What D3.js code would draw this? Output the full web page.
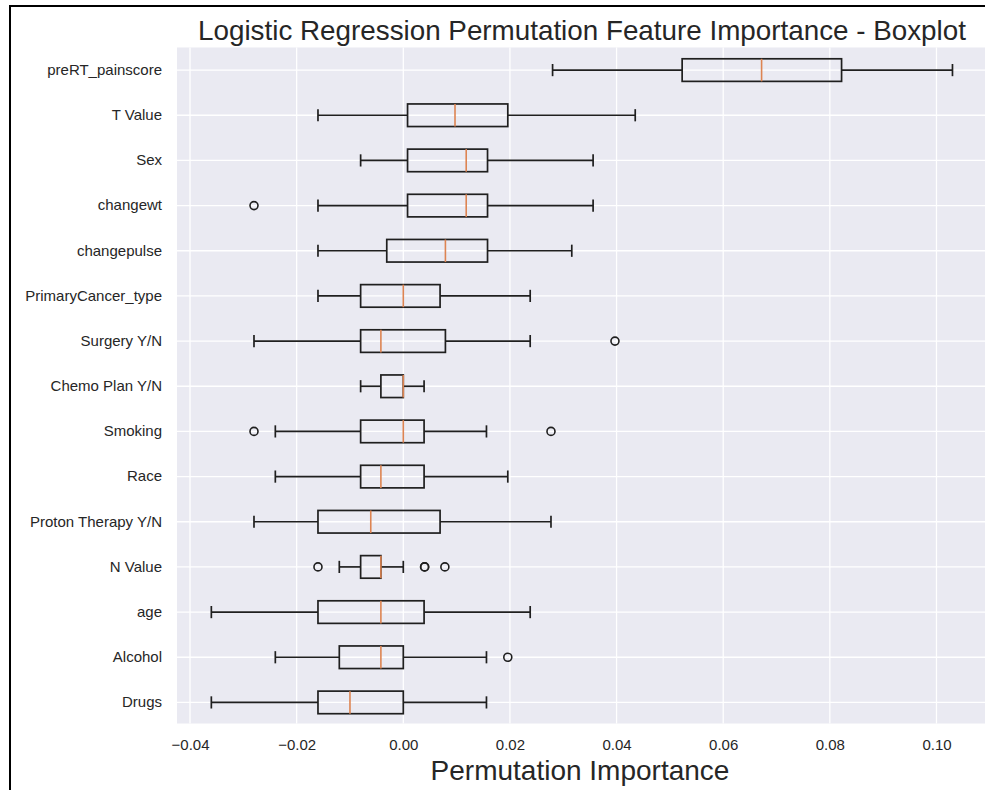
<!DOCTYPE html>
<html><head><meta charset="utf-8">
<script src="https://cdn.jsdelivr.net/npm/d3@7/dist/d3.min.js"></script>
<style>body{margin:0;background:#fff}svg{display:block}text{font-family:"Liberation Sans",Arial,sans-serif;fill:#262626}</style>
</head><body><svg id="c" width="985" height="790"></svg>
<script>
const features = ["preRT_painscore","T Value","Sex","changewt","changepulse","PrimaryCancer_type","Surgery Y/N","Chemo Plan Y/N","Smoking","Race","Proton Therapy Y/N","N Value","age","Alcohol","Drugs"];
const whiskerLow  = [0.028,-0.016,-0.008,-0.016,-0.016,-0.016,-0.028,-0.008,-0.024,-0.024,-0.028,-0.012,-0.036,-0.024,-0.036];
const q1          = [0.0523,0.0008,0.0008,0.0008,-0.0031,-0.008,-0.008,-0.0042,-0.008,-0.008,-0.016,-0.008,-0.016,-0.012,-0.016];
const median      = [0.0672,0.0097,0.0118,0.0118,0.0079,0.0,-0.0042,0.0,0.0,-0.0042,-0.0061,-0.0042,-0.0042,-0.0042,-0.01];
const q3          = [0.0822,0.0196,0.0158,0.0158,0.0158,0.0069,0.0079,0.0,0.0039,0.0039,0.0069,-0.0042,0.0039,0.0,0.0];
const whiskerHigh = [0.103,0.0435,0.0356,0.0356,0.0316,0.0238,0.0238,0.0039,0.0156,0.0196,0.0277,0.0,0.0238,0.0156,0.0156];
const outliers    = [[],[],[],[-0.028],[],[],[0.0397],[],[-0.028,0.0277],[],[],[-0.016,0.004,0.004,0.0078],[],[0.0196],[]];
const xTicks = [-0.04,-0.02,0.00,0.02,0.04,0.06,0.08,0.10];

const svg = d3.select("#c");
const W = 985, H = 790;
const L = 177, R = 985, T = 47.5, B = 723.5;
const x = d3.scaleLinear().domain([-0.04244, 0.1091]).range([L, R]);
const y = d3.scaleBand().domain(features).range([T, 725]);
const yc = d => y(d) + y.bandwidth()/2;
const boxH = y.bandwidth()*0.5, capH = y.bandwidth()*0.27;

svg.append("rect").attr("x",L).attr("y",T).attr("width",R-L).attr("height",B-T).attr("fill","#EAEAF2");
// grid
svg.append("g").selectAll("line").data(xTicks).join("line")
  .attr("x1",d=>x(d)).attr("x2",d=>x(d)).attr("y1",T).attr("y2",B)
  .attr("stroke","#fff").attr("stroke-width",1.3);
svg.append("g").selectAll("line").data(features).join("line")
  .attr("x1",L).attr("x2",R).attr("y1",d=>yc(d)).attr("y2",d=>yc(d))
  .attr("stroke","#fff").attr("stroke-width",1.3);

// axes
const xAxis = d3.axisBottom(x).tickValues(xTicks).tickSize(0).tickPadding(0)
  .tickFormat(d=>d3.format(".2f")(d).replace("-","\u2212"));
const gx = svg.append("g").attr("transform",`translate(0,${B})`).call(xAxis);
gx.select(".domain").remove();
gx.selectAll("text").attr("dy",null).attr("y",26.5).style("font-size","15px").attr("fill","#262626");

const yAxis = d3.axisLeft(y).tickSize(0).tickPadding(0);
const gy = svg.append("g").attr("transform",`translate(${L-15},0)`).call(yAxis);
gy.select(".domain").remove();
gy.selectAll("text").style("font-size","15px").attr("fill","#262626").attr("text-anchor","end");

// boxes
const g = svg.append("g");
const stroke = "#1f1f1f", sw = 1.7;
features.forEach((f,i)=>{
  const cy = yc(f);
  g.append("line").attr("x1",x(whiskerLow[i])).attr("x2",x(q1[i])).attr("y1",cy).attr("y2",cy).attr("stroke",stroke).attr("stroke-width",sw);
  g.append("line").attr("x1",x(q3[i])).attr("x2",x(whiskerHigh[i])).attr("y1",cy).attr("y2",cy).attr("stroke",stroke).attr("stroke-width",sw);
  [whiskerLow[i], whiskerHigh[i]].forEach(v=>{
    g.append("line").attr("x1",x(v)).attr("x2",x(v)).attr("y1",cy-capH/2).attr("y2",cy+capH/2).attr("stroke",stroke).attr("stroke-width",sw);
  });
  g.append("rect").attr("x",x(q1[i])).attr("y",cy-boxH/2).attr("width",Math.max(0,x(q3[i])-x(q1[i]))).attr("height",boxH)
    .attr("fill","none").attr("stroke",stroke).attr("stroke-width",sw);
  g.append("line").attr("x1",x(median[i])).attr("x2",x(median[i])).attr("y1",cy-boxH/2).attr("y2",cy+boxH/2).attr("stroke","#DD8452").attr("stroke-width",1.6);
  outliers[i].forEach(v=>{
    g.append("circle").attr("cx",x(v)).attr("cy",cy).attr("r",4).attr("fill","none").attr("stroke",stroke).attr("stroke-width",1.6);
  });
});

// titles
svg.append("text").attr("x",582).attr("y",40).attr("text-anchor","middle").style("font-size","27.8px").text("Logistic Regression Permutation Feature Importance - Boxplot");
svg.append("text").attr("x",(L+R)/2 - 1).attr("y",780).attr("text-anchor","middle").style("font-size","28px").text("Permutation Importance");

// frame
svg.append("line").attr("x1",10).attr("x2",W).attr("y1",6).attr("y2",6).attr("stroke","#000").attr("stroke-width",2);
svg.append("line").attr("x1",10).attr("x2",10).attr("y1",5).attr("y2",H).attr("stroke","#000").attr("stroke-width",2);
</script></body></html>
